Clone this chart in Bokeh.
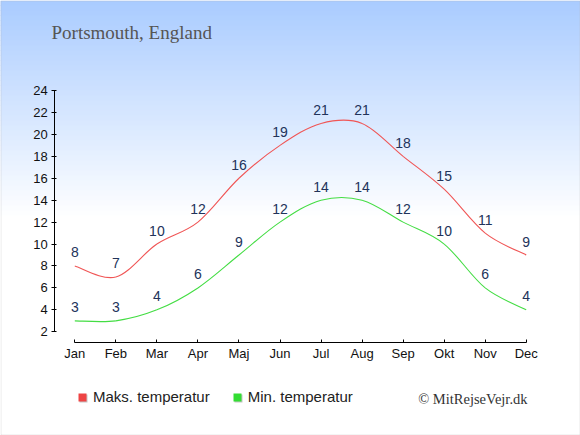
from bokeh.plotting import figure
from bokeh.models import (ColumnDataSource, FixedTicker, Label, BoxAnnotation,
                          Legend, LegendItem, Range1d, LinearAxis)
from bokeh.core.properties import value
from bokeh.embed import file_html
from bokeh.resources import INLINE

months = ["Jan", "Feb", "Mar", "Apr", "Maj", "Jun", "Jul", "Aug", "Sep", "Okt", "Nov", "Dec"]
max_temp = [8, 7, 10, 12, 16, 19, 21, 21, 18, 15, 11, 9]
min_temp = [3, 3, 4, 6, 9, 12, 14, 14, 12, 10, 6, 4]
y_ticks = [2, 4, 6, 8, 10, 12, 14, 16, 18, 20, 22, 24]
title_text = "Portsmouth, England"
credit_text = "\u00a9 MitRejseVejr.dk"
series_names = ["Maks. temperatur", "Min. temperatur"]

W, H = 580, 435
PX_X = 41.04
PX_Y = 10.968
JAN_PX = 74.3      # canvas x of first month
Y2_PX = 331.3      # canvas y of value 2
x0 = -JAN_PX / PX_X
x1 = x0 + W / PX_X
y1 = 2 + Y2_PX / PX_Y
y0 = y1 - H / PX_Y

def cx(fx):  # canvas x -> data
    return x0 + fx / PX_X

def cy(fy):  # canvas y (from top) -> data
    return y1 - fy / PX_Y

p = figure(width=W, height=H, output_backend="svg", toolbar_location=None,
           x_range=Range1d(x0, x1), y_range=Range1d(y0, y1),
           x_axis_location=None, y_axis_location=None, min_border=0)
p.background_fill_color = "white"
p.border_fill_color = "white"
p.outline_line_color = None
p.grid.visible = False

# gradient background
N = 44
top_c = (0xAA, 0xCC, 0xFF)
for i in range(N):
    t = i / (N - 1)
    c = tuple(int(round(a + (255 - a) * t)) for a in top_c)
    p.add_layout(BoxAnnotation(left=cx(-10), right=cx(W + 10),
                               top=cy(i * 5), bottom=cy(i * 5 + 5.6),
                               fill_color="#%02x%02x%02x" % c, fill_alpha=1,
                               line_color=None, level="underlay"))
# border
p.add_layout(BoxAnnotation(left=cx(0.5), right=cx(W - 0.5), top=cy(0.5), bottom=cy(H - 0.5),
                           fill_color=None, line_color="#b4b4b4", line_width=1, level="overlay"))

xs = list(range(len(months)))

def bez(vals):
    d = dict(x0=[], y0=[], x1=[], y1=[], cx0=[], cy0=[], cx1=[], cy1=[])
    n = len(vals)
    for i in range(n - 1):
        a = max(i - 1, 0); b = i; c = i + 1; e = min(i + 2, n - 1)
        d["x0"].append(xs[b]); d["y0"].append(vals[b])
        d["x1"].append(xs[c]); d["y1"].append(vals[c])
        d["cx0"].append(xs[b] + (xs[c] - xs[a]) / 6); d["cy0"].append(vals[b] + (vals[c] - vals[a]) / 6)
        d["cx1"].append(xs[c] - (xs[e] - xs[b]) / 6); d["cy1"].append(vals[c] - (vals[e] - vals[b]) / 6)
    return ColumnDataSource(d)

red = "#f05555"
green = "#44dd44"
p.bezier(x0="x0", y0="y0", x1="x1", y1="y1", cx0="cx0", cy0="cy0", cx1="cx1", cy1="cy1",
         source=bez(max_temp), line_color=red, line_width=1.1)
p.bezier(x0="x0", y0="y0", x1="x1", y1="y1", cx0="cx0", cy0="cy0", cx1="cx1", cy1="cy1",
         source=bez(min_temp), line_color=green, line_width=1.1)

lab_src = ColumnDataSource(dict(x=xs + xs, y=max_temp + min_temp,
                                t=[str(v) for v in max_temp + min_temp]))
p.text(x="x", y="y", text="t", source=lab_src, y_offset=-13.5, text_align="center",
       text_baseline="middle", text_font=value("Liberation Sans"), text_font_size="14px",
       text_color="#22335a")

# axes (fixed inside the frame)
xa = LinearAxis(fixed_location=cy(341.7))
xa.ticker = FixedTicker(ticks=xs)
xa.major_label_overrides = {i: m for i, m in enumerate(months)}
xa.bounds = (0, len(months) - 1)
xa.major_tick_in = 3
xa.major_tick_out = 0
xa.minor_tick_line_color = None
xa.major_label_standoff = 4
ya = LinearAxis(fixed_location=cx(54.3))
ya.ticker = FixedTicker(ticks=y_ticks)
ya.bounds = (2, 24)
ya.major_tick_in = 2
ya.major_tick_out = 3
ya.minor_tick_line_color = None
ya.major_label_standoff = 4
for ax in (xa, ya):
    ax.axis_line_color = "black"
    ax.major_tick_line_color = "black"
    ax.major_label_text_font = "Liberation Sans"
    ax.major_label_text_font_size = "13px"
    ax.major_label_text_color = "#111111"
p.add_layout(xa, "below")
p.add_layout(ya, "left")

# title and credit
p.add_layout(Label(x=cx(51), y=cy(32), text=title_text, text_font="Liberation Serif",
                   text_font_size="19px", text_color="#555555", text_baseline="middle",
                   text_align="left"))
p.add_layout(Label(x=cx(527), y=cy(398), text=credit_text, text_font="Liberation Serif",
                   text_font_size="14.5px", text_color="#333333", text_baseline="middle",
                   text_align="right"))

# legend swatches: zero-area (invisible) quads drawn from the series, used only as legend glyphs
s1 = p.quad(left=xs, right=xs, top=max_temp, bottom=max_temp, fill_color="#c4c4c4", line_color=None)
q1 = p.quad(left=xs, right=xs, top=max_temp, bottom=max_temp, fill_color="#ee4444", line_color=None)
q2 = p.quad(left=xs, right=xs, top=min_temp, bottom=min_temp, fill_color="#33dd33", line_color=None)
common = dict(orientation="horizontal", glyph_width=10, glyph_height=10, label_standoff=6,
              spacing=22, padding=0, margin=0, border_line_color=None,
              background_fill_color=None, label_text_font="Liberation Sans",
              label_text_font_size="15px", label_height=10)
shadow = Legend(items=[LegendItem(label=series_names[0], renderers=[s1]),
                       LegendItem(label=series_names[1], renderers=[s1])],
                location=(78, H - 406), label_text_alpha=0, **common)
leg = Legend(items=[LegendItem(label=series_names[0], renderers=[q1]),
                    LegendItem(label=series_names[1], renderers=[q2])],
             location=(77, H - 405), label_text_color="#222222", **common)
p.add_layout(shadow, "center")
p.add_layout(leg, "center")

open("out.html", "w").write(file_html(p, INLINE))
